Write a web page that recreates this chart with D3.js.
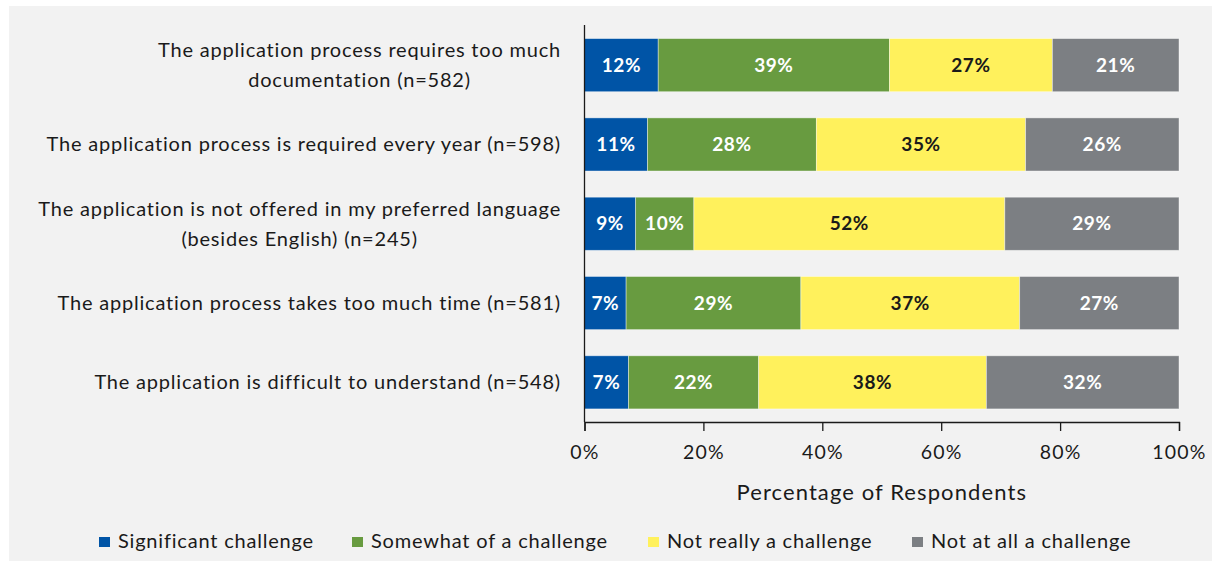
<!DOCTYPE html>
<html>
<head>
<meta charset="utf-8">
<script src="https://cdn.jsdelivr.net/npm/d3@7"></script>
<style>
  body { margin: 0; background: #ffffff; }
  svg text { font-family: Lato, "Open Sans", sans-serif; }
</style>
</head>
<body>
<svg id="chart" width="1212" height="564"></svg>
<script>
// Categorias (de arriba a abajo)
const categories = [
    ["The application process requires too much", "documentation (n=582)"],
    ["The application process is required every year (n=598)"],
    ["The application is not offered in my preferred language", "(besides English) (n=245)"],
    ["The application process takes too much time (n=581)"],
    ["The application is difficult to understand (n=548)"]
];

// Series (porcentaje de respuestas)
const seriesNames = ["Significant challenge", "Somewhat of a challenge", "Not really a challenge", "Not at all a challenge"];
const significant = [12.4, 10.6, 8.6, 7.0, 7.4];
const somewhat    = [38.9, 28.4, 9.8, 29.4, 21.9];
const notReally   = [27.4, 35.2, 52.3, 36.8, 38.3];
const notAtAll    = [21.3, 25.8, 29.3, 26.8, 32.4];

const seriesColors = ["#0054a6", "#689b40", "#fff15c", "#7c7f83"];
const labelColors  = ["#ffffff", "#ffffff", "#1a1a1a", "#ffffff"];

const xTicks = [0, 20, 40, 60, 80, 100];
const xTitle = "Percentage of Respondents";

// Tabla para d3.stack
const table = categories.map((c, i) => ({
    idx: i,
    s0: significant[i], s1: somewhat[i], s2: notReally[i], s3: notAtAll[i]
}));
const keys = ["s0", "s1", "s2", "s3"];
const stacked = d3.stack().keys(keys)(table);

const svg = d3.select("#chart");

// Fondo del panel
svg.append("rect")
    .attr("x", 9).attr("y", 6)
    .attr("width", 1203).attr("height", 555)
    .attr("fill", "#f2f2f2");

const x = d3.scaleLinear().domain([0, 100]).range([584.5, 1179]);
const y = d3.scaleBand()
    .domain(categories.map((c, i) => i))
    .range([25.5, 422])
    .paddingInner(0.33)
    .paddingOuter(0.165);

// Barras
const groups = svg.append("g").selectAll("g")
    .data(stacked)
    .join("g")
    .attr("fill", (d, i) => seriesColors[i]);

groups.selectAll("rect")
    .data(d => d)
    .join("rect")
    .attr("x", d => x(d[0]))
    .attr("y", d => y(d.data.idx))
    .attr("width", d => x(d[1]) - x(d[0]))
    .attr("height", y.bandwidth())
    .attr("stroke", "#ffffff")
    .attr("stroke-opacity", 0.5)
    .attr("stroke-width", 0.8);

// Etiquetas de valores
stacked.forEach((s, si) => {
    svg.append("g").selectAll("text")
        .data(s)
        .join("text")
        .attr("x", d => x((d[0] + d[1]) / 2))
        .attr("y", d => y(d.data.idx) + y.bandwidth() / 2)
        .attr("dy", "0.35em")
        .attr("text-anchor", "middle")
        .attr("font-size", "19px")
        .attr("font-weight", "bold")
        .attr("letter-spacing", "0.6px")
        .attr("fill", labelColors[si])
        .text(d => Math.round(d[1] - d[0]) + "%");
});

// Etiquetas de categorias
const lineGap = 30;
const catLabels = svg.append("g").selectAll("text")
    .data(categories)
    .join("text")
    .attr("text-anchor", "middle")
    .attr("font-size", "20px")
    .attr("letter-spacing", "0.8px")
    .attr("fill", "#1a1a1a")
    .attr("y", (d, i) => y(i) + y.bandwidth() / 2 - (d.length - 1) * lineGap / 2);

catLabels.each(function(d) {
    const t = d3.select(this);
    d.forEach((line, j) => {
        t.append("tspan")
            .attr("x", 0)
            .attr("dy", j === 0 ? "0.35em" : lineGap)
            .text(line);
    });
});
// bloque alineado a la derecha, lineas centradas entre si
catLabels.each(function(d) {
    const w = this.getBBox().width;
    d3.select(this).selectAll("tspan").attr("x", 561 - w / 2);
});

// Eje X
const xAxis = d3.axisBottom(x)
    .tickValues(xTicks)
    .tickFormat(d => d + "%")
    .tickSize(9)
    .tickPadding(14);

const gx = svg.append("g")
    .attr("transform", "translate(0,422)")
    .call(xAxis);
gx.select(".domain").attr("stroke", "#1a1a1a").attr("stroke-width", 1.3);
gx.selectAll(".tick line").attr("stroke", "#1a1a1a").attr("stroke-width", 1.3);
gx.selectAll(".tick text")
    .attr("font-size", "19.5px")
    .attr("letter-spacing", "1.2px")
    .attr("fill", "#1a1a1a")
    .style("font-family", "Lato, 'Open Sans', sans-serif");

// Eje Y (solo linea)
svg.append("line")
    .attr("x1", x(0)).attr("x2", x(0))
    .attr("y1", 25).attr("y2", 422)
    .attr("stroke", "#1a1a1a")
    .attr("stroke-width", 1.3);

// Titulo eje X
svg.append("text")
    .attr("x", (x(0) + x(100)) / 2)
    .attr("y", 492)
    .attr("dy", "0.35em")
    .attr("text-anchor", "middle")
    .attr("font-size", "22px")
    .attr("letter-spacing", "1.1px")
    .attr("fill", "#1a1a1a")
    .text(xTitle);

// Leyenda
const legendX = [99, 352, 648, 912];
const legend = svg.append("g").selectAll("g")
    .data(seriesNames)
    .join("g")
    .attr("transform", (d, i) => `translate(${legendX[i]}, 541)`);

legend.append("rect")
    .attr("x", 0).attr("y", -4)
    .attr("width", 11).attr("height", 10)
    .attr("fill", (d, i) => seriesColors[i]);

legend.append("text")
    .attr("x", 19)
    .attr("y", 0)
    .attr("dy", "0.35em")
    .attr("font-size", "20px")
    .attr("letter-spacing", "0.8px")
    .attr("fill", "#1a1a1a")
    .text(d => d);
</script>
</body>
</html>
